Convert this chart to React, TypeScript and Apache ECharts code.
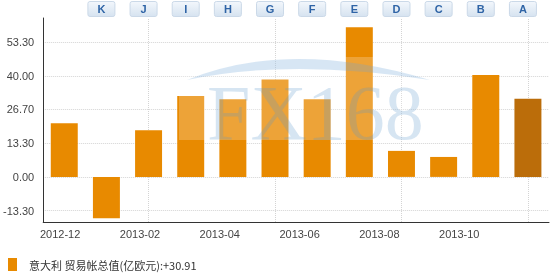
import { useEffect, useRef } from 'react';
import * as echarts from 'echarts';

const categories = ['2012-12', '2013-01', '2013-02', '2013-03', '2013-04', '2013-05', '2013-06', '2013-07', '2013-08', '2013-09', '2013-10', '2013-11'];
const values = [21.2, -16.4, 18.5, 32.0, 30.7, 38.6, 30.7, 59.2, 10.3, 7.9, 40.3, 30.91];
const yTicks = [-13.3, 0, 13.3, 26.7, 40, 53.3];
const xTickLabels = ['2012-12', '2013-02', '2013-04', '2013-06', '2013-08', '2013-10'];
const buttonLetters = ['K', 'J', 'I', 'H', 'G', 'F', 'E', 'D', 'C', 'B', 'A'];
const gridLineCategories = ['2013-02', '2013-05', '2013-08', '2013-11'];
const seriesName = '意大利 贸易帐总值(亿欧元)';

const ORANGE = '#e88a00';
const DARK = '#bb6d0a';

echarts.graphic.registerShape(
  'fxarc',
  echarts.graphic.extendPath('M187,80 Q290,38 430,80 Q290,58 187,80 Z', {})
);

function buildGraphic(centers: number[]) {
  const els: any[] = [
    {
      id: 'wm-box', type: 'rect', silent: true, z: 100,
      shape: { x: 179, y: 57, width: 262, height: 83 },
      style: { fill: 'rgba(255,255,255,0.22)' },
    },
    {
      id: 'wm-arc', type: 'fxarc', silent: true, z: 101,
      style: { fill: 'rgba(110,165,215,0.28)' },
    },
    {
      id: 'wm-text', type: 'text', silent: true, z: 101, x: 207, y: 112,
      style: {
        text: 'FX168', font: '78px "Liberation Serif"', fill: 'rgba(90,150,205,0.25)',
        textAlign: 'left', textVerticalAlign: 'middle',
      },
    },
  ];
  buttonLetters.forEach((letter, i) => {
    const cx = centers[i];
    els.push({
      id: 'btn-' + i, type: 'group', x: cx - 13.5, y: 1.5,
      children: [
        {
          type: 'rect', shape: { x: 0, y: 0, width: 27, height: 15, r: 2 },
          style: {
            fill: new echarts.graphic.LinearGradient(0, 0, 0, 1, [
              { offset: 0, color: '#f3f7fc' },
              { offset: 1, color: '#d6e3f0' },
            ]),
            stroke: '#cbd9e8', lineWidth: 1,
          },
        },
        {
          type: 'text', x: 13.5, y: 7.5,
          style: {
            text: letter, font: 'bold 11px "Liberation Sans"', fill: '#2f64a6',
            textAlign: 'center', textVerticalAlign: 'middle',
          },
        },
      ],
    });
  });
  return els;
}

export default function App() {
  const ref = useRef<HTMLDivElement>(null);
  useEffect(() => {
    if (!ref.current) return;
    const chart = echarts.init(ref.current, undefined, { renderer: 'svg' });
    const last = values[values.length - 1];
    const option: any = {
      animation: false,
      grid: { left: 42, right: 1, top: 18, bottom: 53, containLabel: false },
      legend: {
        data: [seriesName], left: 3, top: 253, icon: 'rect', itemWidth: 9, itemHeight: 13,
        selectedMode: false,
        formatter: (n: string) => `${n}:${last >= 0 ? '+' : ''}${last.toFixed(2)}`,
        textStyle: { fontSize: 11, color: '#333', fontFamily: '"Noto Sans CJK SC"', padding: [0, 0, 0, 7] },
      },
      xAxis: [
        {
          type: 'category', data: categories, boundaryGap: true,
          axisLine: { onZero: false, lineStyle: { color: '#333', width: 1 } },
          axisTick: { show: false },
          axisLabel: { show: false },
          splitLine: { show: false },
        },
        {
          type: 'value', position: 'bottom', min: -0.425, max: 12.25,
          axisLine: { show: false, onZero: false },
          axisTick: { show: false },
          splitLine: { show: false },
          axisLabel: {
            customValues: xTickLabels.map((_, k) => 2 * k),
            formatter: (v: number) => xTickLabels[Math.round(v / 2)] ?? '',
            color: '#444', fontSize: 11, fontFamily: '"Liberation Sans"', margin: 6,
          },
        },
      ],
      yAxis: {
        type: 'value', min: -17.85, max: 62.9,
        axisLine: { show: true, onZero: false, lineStyle: { color: '#333', width: 1 } },
        axisTick: { show: false, customValues: yTicks },
        axisLabel: {
          customValues: yTicks,
          formatter: (v: number) => v.toFixed(2),
          color: '#444', fontSize: 11, fontFamily: '"Liberation Sans"', margin: 9,
        },
        splitLine: { show: true, lineStyle: { type: 'dotted', color: '#d4d4d4', width: 1 } },
      },
      series: [
        {
          type: 'line', data: [], z: 1, silent: true, xAxisIndex: 0,
          markLine: {
            silent: true, z: 1, symbol: ['none', 'none'], label: { show: false },
            lineStyle: { type: 'dotted', color: '#d4d4d4', width: 1 },
            emphasis: { disabled: true },
            data: gridLineCategories.map((c) => ({ xAxis: c })),
          },
        },
        {
          name: seriesName, type: 'bar', z: 2, xAxisIndex: 0, barWidth: '64%',
          itemStyle: { color: ORANGE },
          data: values.map((v, i) => (i === values.length - 1 ? { value: v, itemStyle: { color: DARK } } : v)),
        },
      ],
      graphic: [],
    };
    chart.setOption(option);
    const centers = buttonLetters.map((_, i) => {
      const p = chart.convertToPixel({ xAxisIndex: 0 }, categories[i + 1]) as number;
      return p - 5;
    });
    chart.setOption({ graphic: buildGraphic(centers) });
    return () => chart.dispose();
  }, []);
  return <div ref={ref} style={{ position: 'fixed', left: 0, top: 0, width: 550, height: 275 }} />;
}
